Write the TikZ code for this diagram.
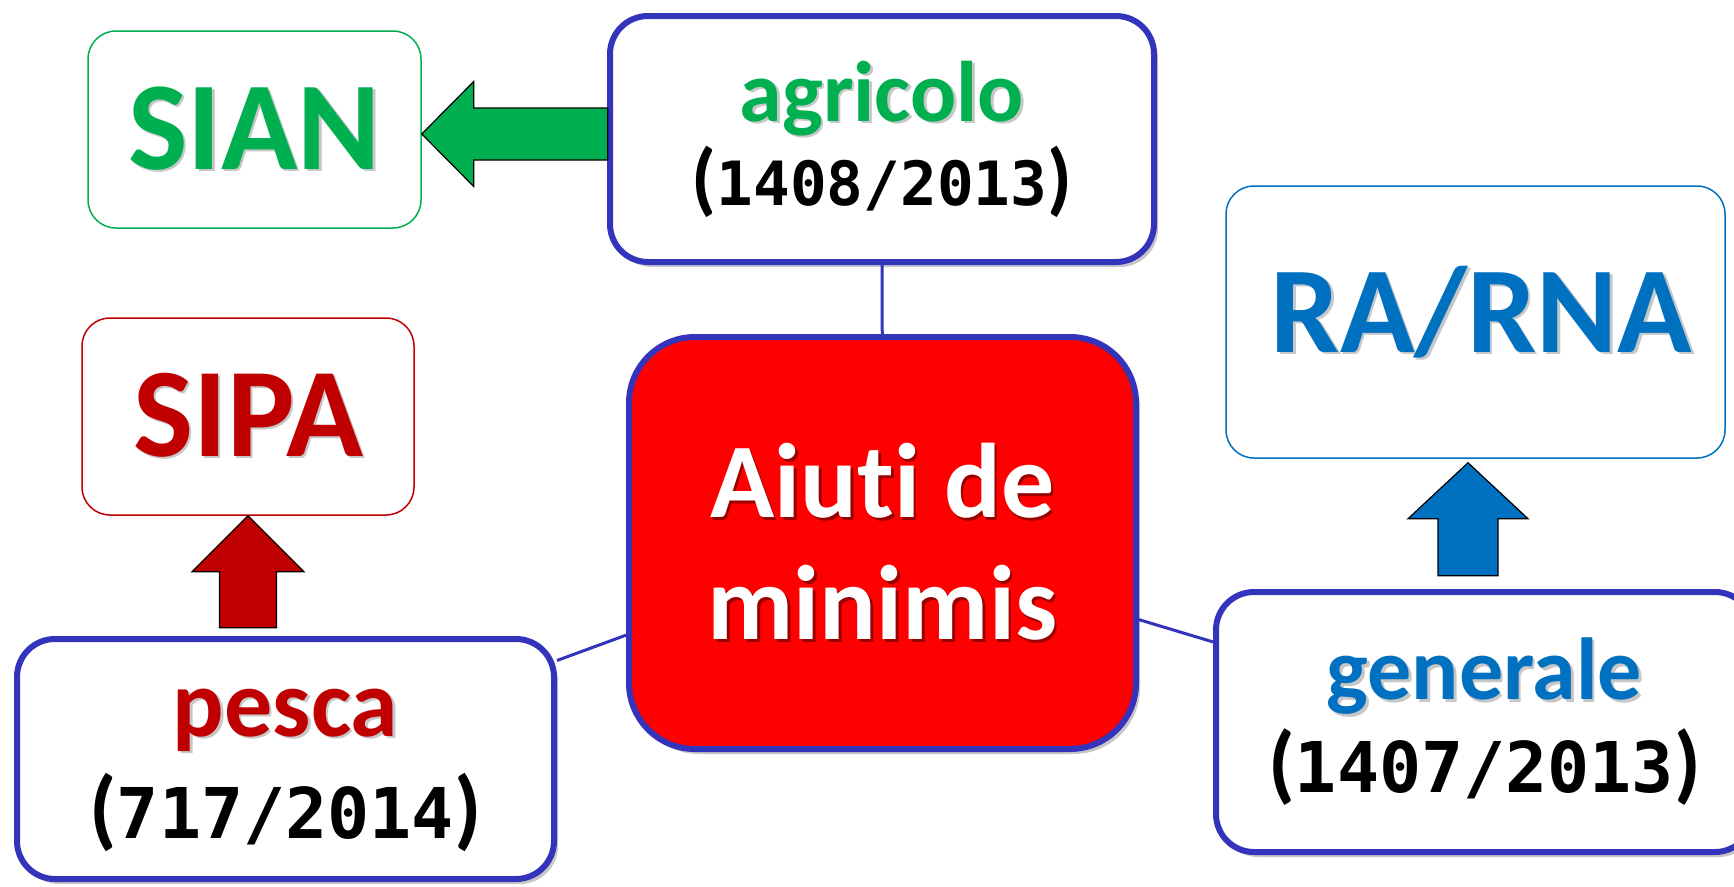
\documentclass[tikz,border=0pt]{standalone}
\usepackage{fontspec}
\setmainfont{Carlito}[Ligatures=NoCommon]
\newfontfamily\cifre{DejaVu Sans Mono}
\usepackage{xcolor}
\usetikzlibrary{shadows,calc}

\definecolor{verde}{HTML}{00B050}
\definecolor{rosso}{HTML}{C00000}
\definecolor{azzurro}{HTML}{0070C0}
\definecolor{bordo}{RGB}{51,51,187}
\definecolor{centrale}{HTML}{FF0000}

% testo con ombra : {couleur}{couleur ombre}{texte}
\newcommand{\ombra}[3]{\leavevmode\rlap{\kern2.5pt\raisebox{-2.5pt}{\color{#2}#3}}{\color{#1}#3}}
% numero del regolamento : {texte}{taille chiffres}{taille parentheses}
\newcommand{\regola}[3]{{\fontsize{#3}{#3}\selectfont(}{\cifre\fontsize{#2}{#2}\selectfont #1}{\fontsize{#3}{#3}\selectfont)}}
% taille du texte d'un noeud : {taille}{interligne}
\newcommand{\corpo}[2]{\fontsize{#1}{#2}\selectfont\bfseries}

\begin{document}
\begin{tikzpicture}[x=1pt,y=-1pt]
% Styles (MODIFIABLES)
\tikzstyle{ambito}=[draw=bordo,line width=6pt,rounded corners=38pt,fill=white,inner sep=0pt,align=center,
  drop shadow={shadow xshift=4pt,shadow yshift=-5pt,opacity=0.22,fill=black}]
\tikzstyle{sistema}=[draw,line width=1.5pt,rounded corners=28pt,fill=white,inner sep=0pt,align=center]
\tikzstyle{legame}=[draw=bordo,line width=3pt]
\tikzstyle{freccia}=[draw=black,line width=1.2pt,line join=miter]
% Dimensions (MODIFIABLES)
\def\Testa{56}
\def\Gambo{28.5}
\def\Ala{56}
\def\Lunghezza{112}
% Cadre
\useasboundingbox (0,0) rectangle (1734,886);
% Noeuds
\node[sistema,draw=verde,minimum width=333pt,minimum height=197pt,font=\corpo{126}{126}] (sian) at (254.5,129.5)
  {\ombra{verde}{black!22}{SIAN}};
\node[sistema,draw=rosso,minimum width=332pt,minimum height=197pt,font=\corpo{127}{127}] (sipa) at (248,416.5)
  {\ombra{rosso}{black!22}{SIPA}};
\node[sistema,draw=azzurro,minimum width=499pt,minimum height=272pt,font=\corpo{123}{123}] (rarna) at (1475.5,322)
  {\kern12pt\ombra{azzurro}{black!22}{RA/RNA}\rule[-26pt]{0pt}{1pt}};
\node[ambito,minimum width=544pt,minimum height=246pt,font=\corpo{86}{84}] (agricolo) at (882,139)
  {\ombra{verde}{black!22}{agricolo}\\\regola{1408/2013}{61}{80}};
\node[ambito,fill=centrale,rounded corners=66pt,minimum width=507pt,minimum height=412pt,font=\corpo{106}{122}] (centro) at (882.5,543)
  {\ombra{white}{centrale!60!black}{Aiuti de}\\\ombra{white}{centrale!60!black}{minimis}};
\node[ambito,minimum width=537pt,minimum height=240pt,font=\corpo{96}{102}] (pesca) at (285.5,759)
  {\rule{0pt}{70pt}\ombra{rosso}{black!22}{pesca}\\\regola{717/2014}{70}{88}};
\node[ambito,minimum width=537pt,minimum height=260pt,font=\corpo{88}{93}] (generale) at (1484.5,722)
  {\ombra{azzurro}{black!22}{generale}\\\regola{1407/2013}{70}{86}};
% Arcs
\draw[legame] (agricolo) -- (centro);
\draw[legame] (pesca) -- (centro);
\draw[legame] (centro) -- (generale);
% Frecce
\begin{scope}[shift={($(sian.east)+(0,4.5)$)}]
\draw[freccia,fill=verde] (0,0) -- (52,-52.5) -- (52,-26) -- (186,-26) -- (186,26) -- (52,26) -- (52,52.5) -- cycle;
\end{scope}
\begin{scope}[shift={(sipa.south)}]
\draw[freccia,fill=rosso] (0,0) -- (\Ala,\Testa) -- (\Gambo,\Testa) -- (\Gambo,\Lunghezza)
  -- (-\Gambo,\Lunghezza) -- (-\Gambo,\Testa) -- (-\Ala,\Testa) -- cycle;
\end{scope}
\begin{scope}[shift={($(rarna.south)+(-7.5,4)$)}]
\draw[freccia,fill=azzurro] (0,0) -- (60,\Testa) -- (30,\Testa) -- (30,113)
  -- (-30,113) -- (-30,\Testa) -- (-60,\Testa) -- cycle;
\end{scope}
\end{tikzpicture}
\end{document}
